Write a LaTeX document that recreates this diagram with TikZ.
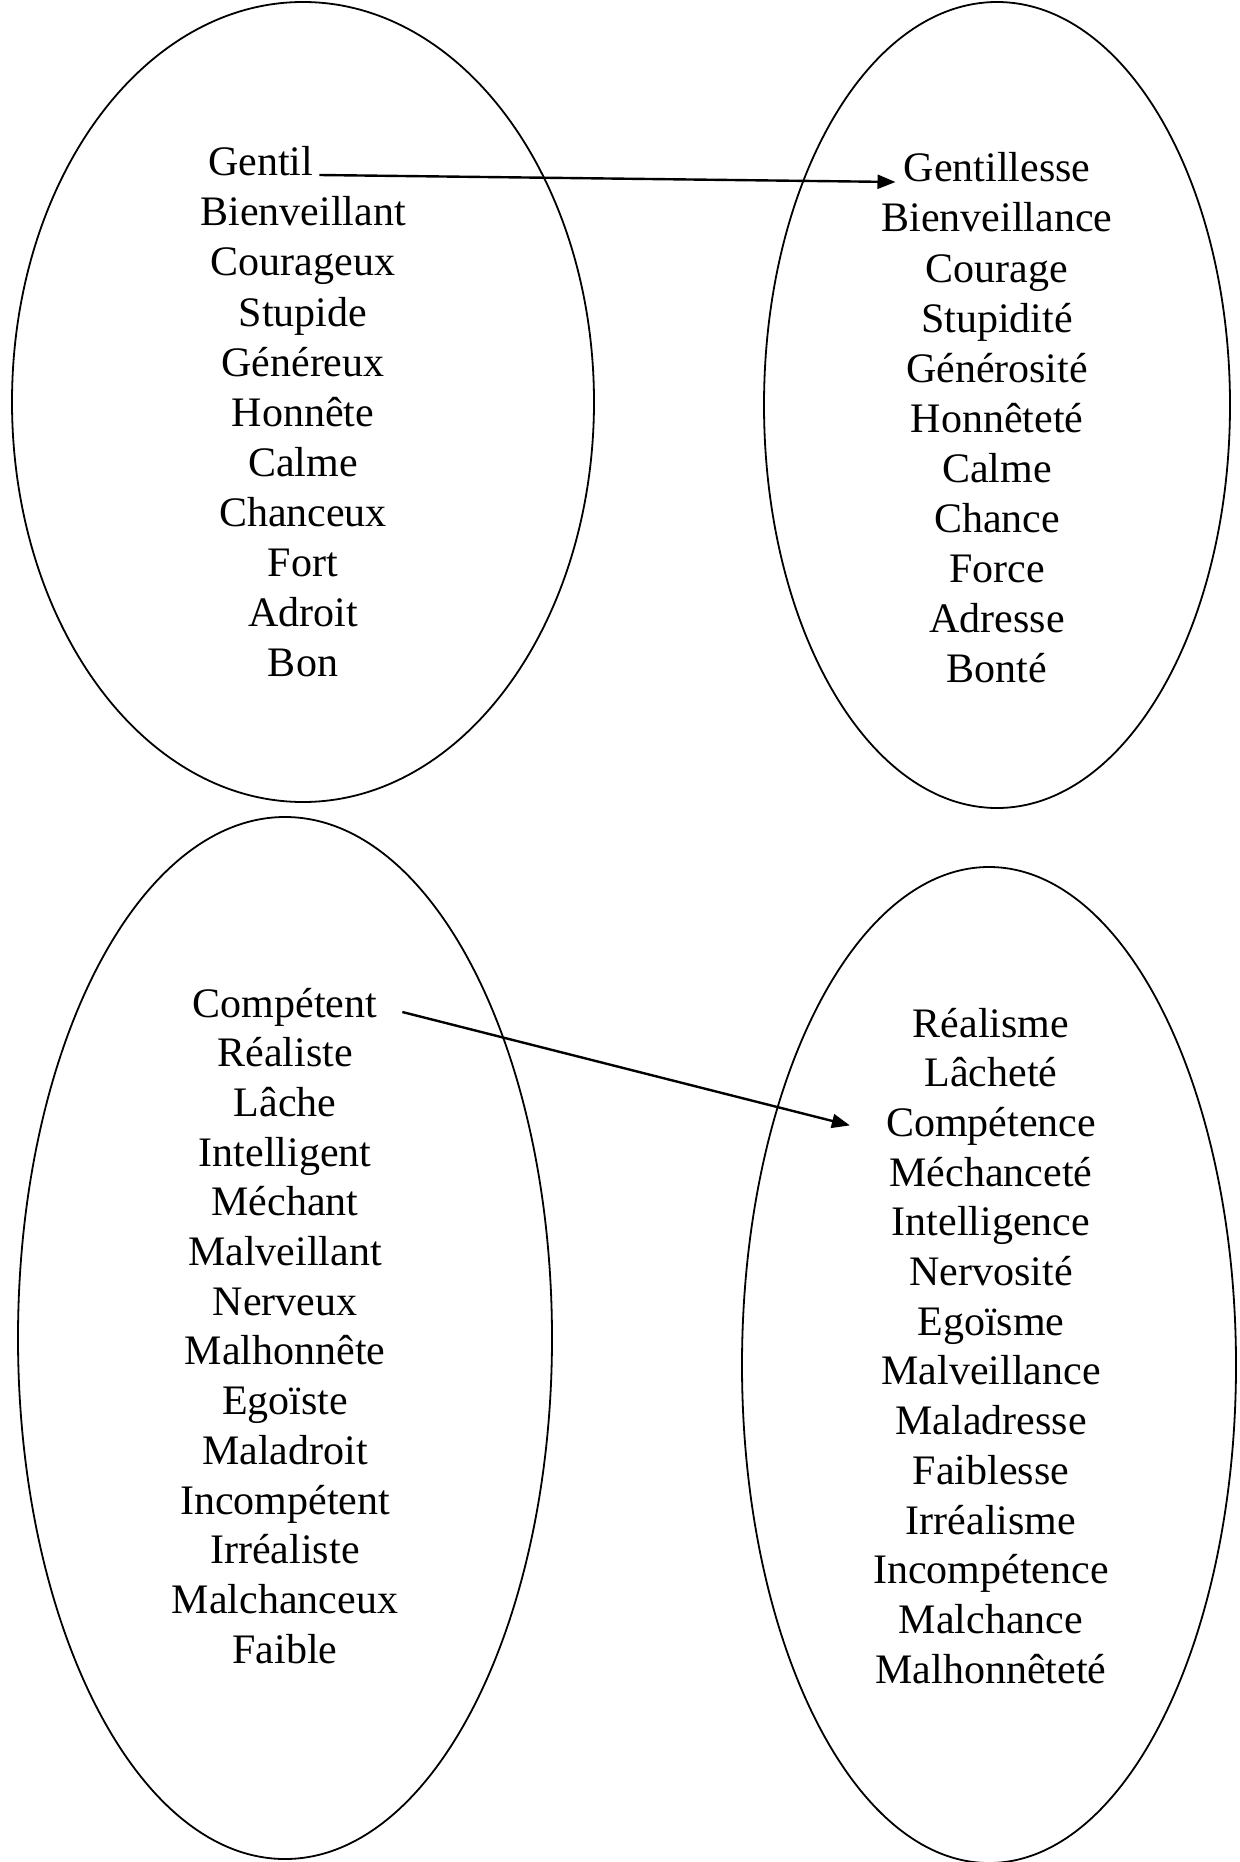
\documentclass[tikz,border=0pt]{standalone}
\usepackage{fontspec}
\setmainfont{Liberation Serif}
\usetikzlibrary{arrows.meta}
\begin{document}
\begin{tikzpicture}[x=1pt,y=-1pt,
  word/.style={inner sep=0pt, anchor=base, font=\fontsize{42}{50}\selectfont},
  oval/.style={draw, line width=1.8pt},
  link/.style={line width=2.4pt, -{Triangle[length=18pt,width=14pt]}}]
\useasboundingbox (0,0) rectangle (1239,1862);
% ovals
\draw[oval] (303,402) ellipse [x radius=291, y radius=400];
\draw[oval] (997,405) ellipse [x radius=233, y radius=403];
\draw[oval] (285,1338) ellipse [x radius=267, y radius=521];
\draw[oval] (989,1365) ellipse [x radius=247, y radius=498];
% top-left words
\node[word, anchor=base west] (tl1) at (208,176) {Gentil};
\foreach \w [count=\i from 2] in {Bienveillant,Courageux,Stupide,Généreux,Honnête,Calme,Chanceux,Fort,Adroit,Bon}
  \node[word] (tl\i) at (303,{176+50*(\i-1)}) {\w};
% top-right words
\foreach \w [count=\i] in {Gentillesse,Bienveillance,Courage,Stupidité,Générosité,Honnêteté,Calme,Chance,Force,Adresse,Bonté}
  \node[word] (tr\i) at (997,{182+50*(\i-1)}) {\w};
% bottom-left words
\foreach \w [count=\i] in {Compétent,Réaliste,Lâche,Intelligent,Méchant,Malveillant,Nerveux,Malhonnête,Egoïste,Maladroit,Incompétent,Irréaliste,Malchanceux,Faible}
  \node[word] (bl\i) at (285,{1017+49.7*(\i-1)}) {\w};
% bottom-right words
\foreach \w [count=\i] in {Réalisme,Lâcheté,Compétence,Méchanceté,Intelligence,Nervosité,Egoïsme,Malveillance,Maladresse,Faiblesse,Irréalisme,Incompétence,Malchance,Malhonnêteté}
  \node[word] (br\i) at (991,{1037+49.7*(\i-1)}) {\w};
% connectors
\draw[link] ([xshift=6pt,yshift=1pt]tl1.base east) -- ([xshift=-8pt]tr1.base west);
\draw[link] ([xshift=25pt,yshift=5pt]bl1.base east) -- ([xshift=-36pt,yshift=11pt]br3.base west);
\end{tikzpicture}
\end{document}
